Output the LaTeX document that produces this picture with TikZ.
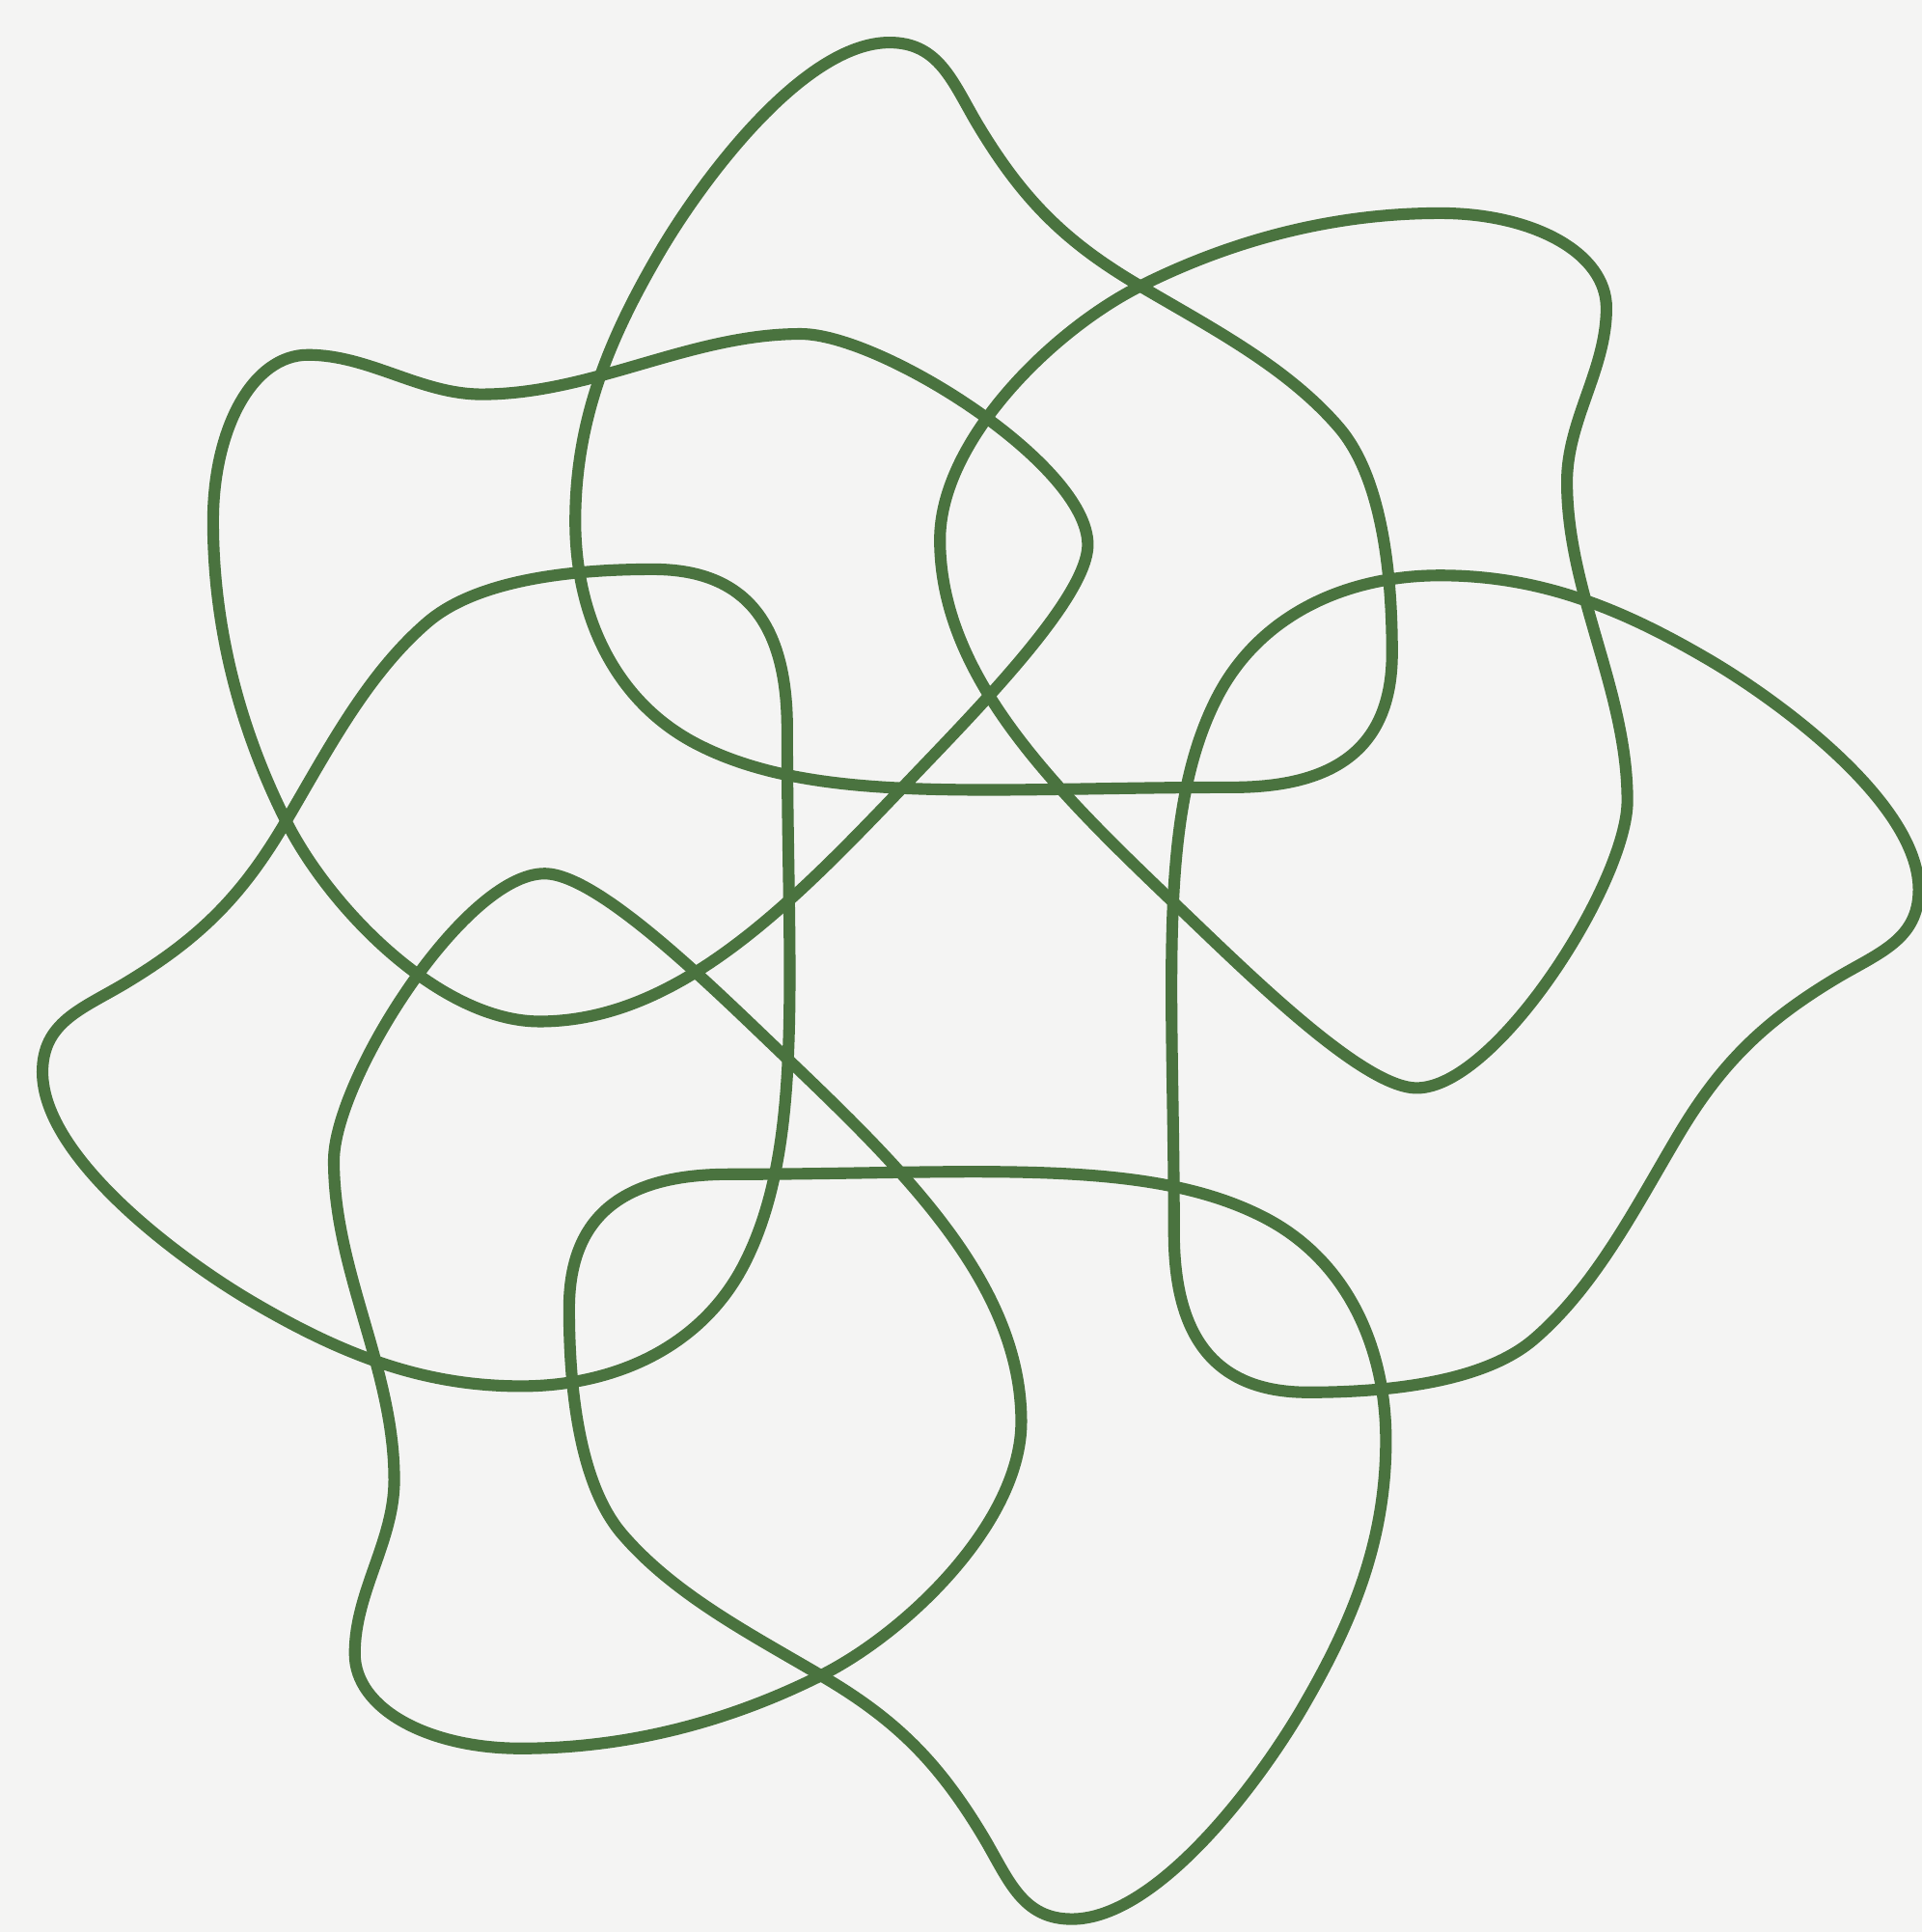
\documentclass[tikz,border=0pt]{standalone}
\usepackage{xcolor}
\usepackage{tikz}
\definecolor{knotgreen}{HTML}{4A733F}
\definecolor{paper}{HTML}{F4F4F3}

\begin{document}
\begin{tikzpicture}[x=0.01cm,y=-0.01cm,strand/.style={draw=knotgreen,line width=2.7pt,line join=round}]
  \fill[paper] (0,0) rectangle (1560,1568);
  \useasboundingbox (0,0) rectangle (1560,1568);
  \begin{scope}[shift={(796,796)}]
    % pointed loops, one per side
    \foreach \r in {0,90,180,270}
      \draw[strand,rotate=\r] (-74,-761.5) .. controls +(40,0) and +(-20,-34) .. (-3,-696)
        .. controls +(37,62) and +(-62,-36) .. (131,-563)
        .. controls +(56,33) and +(-42,-49) .. (291,-449)
        .. controls +(36,42) and +(0,-60) .. (334,-266)
        .. controls +(0,80) and +(80,0) .. (204,-157)
        .. controls +(-200,0) and +(97,51) .. (-232,-193)
        .. controls +(-66,-35) and +(0,75) .. (-329,-373)
        .. controls +(0,-80) and +(-40,69) .. (-263,-587)
        .. controls +(35,-61) and +(-70,0) .. (-74,-761.5) -- cycle;
    % corner loops (no bottom right one)
    \foreach \r in {0,90,180}
      \draw[strand,rotate=\r] (373,-623) .. controls +(75,0) and +(0,-45) .. (508,-546)
        .. controls +(0,50) and +(0,-50) .. (476,-405)
        .. controls +(0,90) and +(0,-90) .. (525,-146)
        .. controls +(0,65) and +(65,0) .. (354,87)
        .. controls +(-45,0) and +(58,55) .. (153,-67)
        .. controls +(-94,-90) and +(0,110) .. (-33,-358)
        .. controls +(0,-80) and +(-72,36) .. (130,-564)
        .. controls +(76,-38) and +(-85,0) .. (373,-623) -- cycle;
  \end{scope}
\end{tikzpicture}
\end{document}
